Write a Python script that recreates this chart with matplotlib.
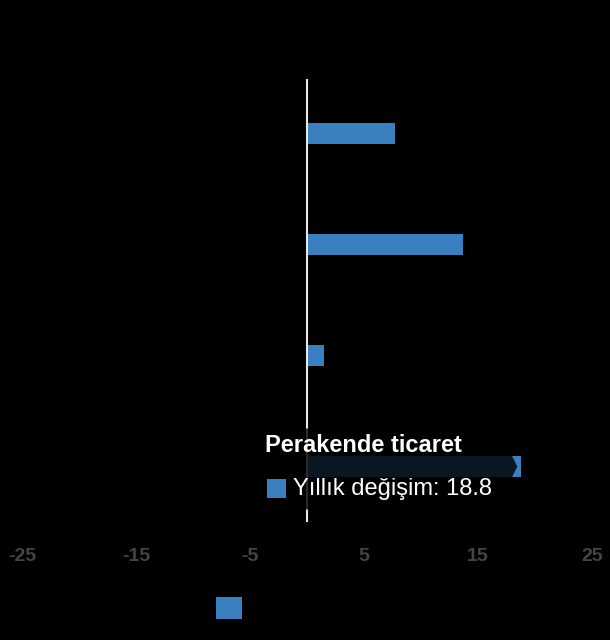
import matplotlib
matplotlib.use("Agg")
import matplotlib.pyplot as plt
from matplotlib.patches import Polygon, Rectangle, Patch
from matplotlib.transforms import IdentityTransform

# yillik degisim (%), yukaridan asagiya
values = [7.7, 13.7, 1.5, 18.8]
highlight = 3
highlight_name = "Perakende ticaret"
series_name = "Yıllık değişim"
xticks = [-25, -15, -5, 5, 15, 25]

bar_color = "#3a80c0"
bg = "#000000"

plt.rcParams['font.family'] = ['Liberation Sans', 'DejaVu Sans']

fig = plt.figure(figsize=(6.1, 6.4), dpi=100, facecolor=bg)
ax = fig.add_axes([22/610, 1-522/640, 570/610, 444/640], facecolor=bg)

pos = list(range(len(values)))
ax.barh(pos, values, height=0.19, color=bar_color, zorder=2)
ax.axvline(0, ymax=0.995, color="#e8e8e8", lw=1.5, zorder=3)

ax.set_xlim(-25, 25)
ax.set_ylim(len(values)-0.5, -0.5)
ax.set_xticks(xticks)
ax.set_xticklabels([str(t) for t in xticks])
ax.set_yticks([])
ax.tick_params(axis='x', length=0, pad=19, labelsize=14, labelcolor="#444444")
for lab in ax.get_xticklabels():
    lab.set_fontweight('bold')
for s in ax.spines.values():
    s.set_visible(False)

# tooltip over the highlighted bar
tx, ty = ax.transData.transform((values[highlight], highlight))
tip_x = tx - 4
right = tip_x - 7
left = right - 256
top = ty + 38
bot = ty - 43
tri = 14
box = Polygon([(left, bot), (right, bot), (right, ty - tri), (tip_x, ty),
               (right, ty + tri), (right, top), (left, top)],
              closed=True, transform=IdentityTransform(), facecolor="black",
              edgecolor="none", alpha=0.82, zorder=5)
fig.patches.append(box)

fig.text((left + 11)/610, (ty + 15)/100/6.4, highlight_name, color="white",
         fontsize=17, fontweight='bold', ha='left', va='baseline', zorder=6)
sq = Rectangle((left + 13, ty - 31), 19, 19, transform=IdentityTransform(),
               facecolor=bar_color, edgecolor="none", zorder=6)
fig.patches.append(sq)
fig.text((left + 39)/610, (ty - 28)/100/6.4,
         "%s: %s" % (series_name, values[highlight]), color="white",
         fontsize=17, ha='left', va='baseline', zorder=6)

# legend (label is black on black)
leg = fig.legend(handles=[Patch(facecolor=bar_color, edgecolor='none')],
                 labels=[series_name], loc='center left',
                 bbox_to_anchor=(216/610, 1-608/640), frameon=False,
                 borderpad=0, borderaxespad=0, handlelength=1.45,
                 handleheight=1.45, fontsize=13, labelcolor=bg)

fig.savefig("out.png", dpi=100, facecolor=bg)
